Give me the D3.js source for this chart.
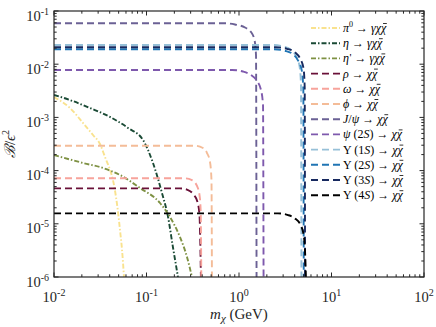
<!DOCTYPE html>
<html><head><meta charset="utf-8">
<script src="https://cdn.jsdelivr.net/npm/d3@7"></script>
<style>body{margin:0;background:#fff} text{font-family:"Liberation Serif","Times New Roman",Times,"DejaVu Serif",serif}</style>
</head><body><svg id="c" width="436" height="327"></svg>
<script>
// ---------- data ----------
const xTickExp = [-2, -1, 0, 1, 2];
const yTickExp = [-6, -5, -4, -3, -2, -1];

const pi0M = [0.01, 0.0149, 0.0206, 0.0264, 0.0314, 0.0356, 0.0403, 0.0434, 0.0468, 0.0492, 0.0517, 0.0544, 0.0571];
const pi0B = [2.41e-3, 1.50e-3, 7.85e-4, 4.67e-4, 3.16e-4, 1.80e-4, 1.03e-4, 6.65e-5, 3.19e-5, 1.67e-5, 7.64e-6, 3.22e-6, 1e-6];

const etaM = [0.01, 0.0149, 0.0245, 0.0403, 0.0631, 0.0917, 0.1175, 0.147, 0.171, 0.193, 0.219];
const etaB = [2.64e-3, 2.12e-3, 1.50e-3, 1.02e-3, 6.33e-4, 3.76e-4, 1.39e-4, 3.79e-5, 1.34e-5, 3.66e-6, 1e-6];

const etapM = [0.01, 0.0206, 0.0339, 0.0517, 0.0851, 0.140, 0.1795, 0.230, 0.274, 0.310];
const etapB = [1.96e-4, 1.39e-4, 1.12e-4, 8.26e-5, 4.71e-5, 2.46e-5, 1.34e-5, 5.65e-6, 2.38e-6, 1e-6];

const rhoM = [0.01, 0.230, 0.281, 0.326, 0.356, 0.374, 0.3876];
const rhoB = [4.64e-5, 4.64e-5, 4.31e-5, 3.48e-5, 2.57e-5, 1.46e-5, 1e-6];

const omegaM = [0.01, 0.261, 0.310, 0.3515, 0.374, 0.385, 0.3913];
const omegaB = [7.16e-5, 7.16e-5, 6.65e-5, 5.14e-5, 3.48e-5, 1.82e-5, 1e-6];

const phiM = [0.01, 0.334, 0.408, 0.451, 0.486, 0.504, 0.5098];
const phiB = [2.94e-4, 2.94e-4, 2.66e-4, 2.14e-4, 1.45e-4, 6.65e-5, 1e-6];

const jpsiM = [0.01, 0.706, 0.905, 1.161, 1.348, 1.471, 1.527, 1.548];
const jpsiB = [0.0587, 0.0587, 0.0557, 0.0489, 0.0403, 0.0285, 0.0149, 1e-6];

const psi2sM = [0.01, 0.840, 1.105, 1.348, 1.565, 1.729, 1.818, 1.843];
const psi2sB = [7.8e-3, 7.8e-3, 7.29e-3, 6.27e-3, 4.83e-3, 3.27e-3, 1.71e-3, 1e-6];

const ups1sM = [0.01, 2.275, 2.990, 3.649, 4.133, 4.51, 4.68, 4.730];
const ups1sB = [0.0230, 0.0230, 0.0215, 0.0185, 0.01427, 9.25e-3, 4.06e-3, 1e-6];

const ups2sM = [0.01, 2.39, 3.14, 3.84, 4.34, 4.77, 4.96, 5.0115];
const ups2sB = [0.0191, 0.0191, 0.01787, 0.01535, 0.01183, 7.67e-3, 3.42e-3, 1e-6];

const ups3sM = [0.01, 2.512, 3.304, 4.03, 4.565, 4.983, 5.13, 5.1776];
const ups3sB = [0.0208, 0.0208, 0.01945, 0.01675, 0.01291, 8.38e-3, 3.73e-3, 1e-6];

const ups4sM = [0.01, 2.64, 3.386, 4.03, 4.565, 4.983, 5.196, 5.2896];
const ups4sB = [1.57e-5, 1.57e-5, 1.46e-5, 1.26e-5, 9.91e-6, 6.43e-6, 2.59e-6, 1e-6];

// legend labels: [text, italic, role]  role "sup" = superscript; last char of each label gets a bar (anti-particle)
const seriesLabels = [
  [["π",1],["0",0,"sup"],[" → ",0],["γχχ",1]],
  [["η",1],[" → ",0],["γχχ",1]],
  [["η",1],["'",0,"prime"],[" → ",0],["γχχ",1]],
  [["ρ",1],[" → ",0],["χχ",1]],
  [["ω",1],[" → ",0],["χχ",1]],
  [["ϕ",1],[" → ",0],["χχ",1]],
  [["J",1],["/",0],["ψ",1],[" → ",0],["χχ",1]],
  [["ψ",1],[" (2",0],["S",1],[") → ",0],["χχ",1]],
  [["Υ",0],[" (1",0],["S",1],[") → ",0],["χχ",1]],
  [["Υ",0],[" (2",0],["S",1],[") → ",0],["χχ",1]],
  [["Υ",0],[" (3",0],["S",1],[") → ",0],["χχ",1]],
  [["Υ",0],[" (4",0],["S",1],[") → ",0],["χχ",1]]
];
const seriesColors = ["#f9e28e","#1a4a35","#7e9143","#6a1038","#f7a39b","#f4bc98",
                      "#6b6195","#7e59ad","#96c0d8","#2075b4","#17295f","#000000"];
const seriesDash = ["5,2,1.5,2","5,2,1.5,2","5,2,1.5,2","7,4","7,4","7,4","7,4","7,4","7,4","7,4","7,4","7,4"];
const seriesM = [pi0M, etaM, etapM, rhoM, omegaM, phiM, jpsiM, psi2sM, ups1sM, ups2sM, ups3sM, ups4sM];
const seriesB = [pi0B, etaB, etapB, rhoB, omegaB, phiB, jpsiB, psi2sB, ups1sB, ups2sB, ups3sB, ups4sB];

// ---------- layout ----------
const L = 54, R = 424, T = 11, B = 277;
const svg = d3.select("#c");
const x = d3.scaleLog().domain([1e-2, 1e2]).range([L, R]);
const y = d3.scaleLog().domain([1e-6, 1e-1]).range([B, T]);
const axisColor = "#262626";

svg.append("clipPath").attr("id", "clip").append("rect")
  .attr("x", L).attr("y", T).attr("width", R - L).attr("height", B - T);

// curves
const line = d3.line().x(d => x(d[0])).y(d => y(d[1])).curve(d3.curveMonotoneX);
const g = svg.append("g").attr("clip-path", "url(#clip)");
seriesM.forEach((ms, i) => {
  const pts = ms.map((m, j) => [m, seriesB[i][j]]);
  g.append("path").attr("d", line(pts)).attr("fill", "none")
    .attr("stroke", seriesColors[i]).attr("stroke-width", 1.9)
    .attr("stroke-dasharray", seriesDash[i]);
});

// frame + ticks
const ax = svg.append("g").attr("stroke", axisColor).attr("fill", "none");
ax.append("rect").attr("x", L).attr("y", T).attr("width", R - L).attr("height", B - T)
  .attr("stroke-width", 1.2);
function ticksFor(e0, e1) {
  const out = [];
  for (let e = e0; e <= e1; e++) {
    for (let k = 1; k <= 9; k++) {
      if (e === e1 && k > 1) break;
      out.push({ v: k * Math.pow(10, e), major: k === 1 });
    }
  }
  return out;
}
ticksFor(-2, 2).forEach(t => {
  const px = x(t.v), len = t.major ? 4.5 : 2.7;
  ax.append("line").attr("x1", px).attr("x2", px).attr("y1", B).attr("y2", B - len).attr("stroke-width", 1);
  ax.append("line").attr("x1", px).attr("x2", px).attr("y1", T).attr("y2", T + len).attr("stroke-width", 1);
});
ticksFor(-6, -1).forEach(t => {
  const py = y(t.v), len = t.major ? 4.5 : 2.7;
  ax.append("line").attr("y1", py).attr("y2", py).attr("x1", L).attr("x2", L + len).attr("stroke-width", 1);
  ax.append("line").attr("y1", py).attr("y2", py).attr("x1", R).attr("x2", R - len).attr("stroke-width", 1);
});

// tick labels
xTickExp.forEach(e => {
  const t = svg.append("text").attr("x", x(Math.pow(10, e))).attr("y", 302)
    .attr("text-anchor", "middle").attr("font-size", 14.5).attr("fill", axisColor);
  t.append("tspan").text("10");
  t.append("tspan").attr("dy", -6).attr("font-size", 10).text(String(e));
});
yTickExp.forEach(e => {
  const t = svg.append("text").attr("x", 49).attr("y", y(Math.pow(10, e)) + 9.5)
    .attr("text-anchor", "end").attr("font-size", 14.5).attr("fill", axisColor);
  t.append("tspan").text("10");
  t.append("tspan").attr("dy", -6).attr("font-size", 10).text(String(e));
});

// axis titles
const xt = svg.append("text").attr("x", 239).attr("y", 319).attr("text-anchor", "middle")
  .attr("font-size", 15).attr("fill", axisColor);
xt.append("tspan").attr("font-style", "italic").text("m");
xt.append("tspan").attr("dy", 3).attr("font-size", 11).attr("font-style", "italic").text("χ");
xt.append("tspan").attr("dy", -3).text(" (GeV)");

const yt = svg.append("text").attr("transform", "translate(15,144) rotate(-90)").attr("text-anchor", "middle")
  .attr("font-size", 15).attr("fill", axisColor);
yt.append("tspan").attr("font-style", "italic").text("ℬ");
yt.append("tspan").text("/");
yt.append("tspan").attr("font-style", "italic").text("ϵ");
yt.append("tspan").attr("dy", -6).attr("font-size", 10).text("2");

// legend
seriesLabels.forEach((parts, i) => {
  const ry = 28 + i * 15.2;
  svg.append("line").attr("x1", 311).attr("x2", 340).attr("y1", ry).attr("y2", ry)
    .attr("stroke", seriesColors[i]).attr("stroke-width", 1.9).attr("stroke-dasharray", seriesDash[i]);
  const t = svg.append("text").attr("x", 343).attr("y", ry + 4)
    .attr("font-size", 12).attr("fill", "#000");
  let shift = 0;
  parts.forEach(p => {
    const s = t.append("tspan").text(p[0]);
    if (p[1]) s.attr("font-style", "italic");
    if (p[2] === "sup") { s.attr("dy", -5).attr("font-size", 8); shift = 5; }
    else if (p[2] === "prime") { s.attr("dy", -1).attr("dx", 0.5).attr("font-size", 11); shift = 1; }
    else if (shift) { s.attr("dy", shift); shift = 0; }
  });
  // bar over the final chi
  const n = t.node();
  const ext = n.getExtentOfChar(n.getNumberOfChars() - 1);
  svg.append("line").attr("x1", ext.x + 2).attr("x2", ext.x + ext.width + 0.5)
    .attr("y1", ry - 4.5).attr("y2", ry - 4.5).attr("stroke", "#000").attr("stroke-width", 0.8);
});
</script>
</body></html>
